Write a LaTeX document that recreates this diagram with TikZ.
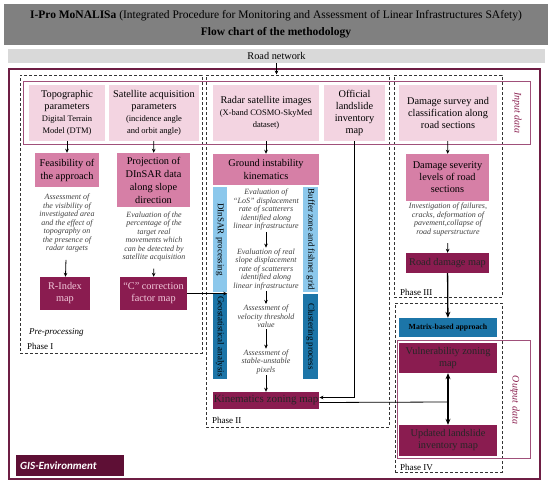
\documentclass[tikz,border=0pt]{standalone}
\usepackage{fontspec}
\setmainfont{Liberation Serif}
\newfontfamily\gisfont{Carlito}
\usepackage{xcolor}
\definecolor{titlegray}{HTML}{808080}
\definecolor{roadgray}{HTML}{D9D9D9}
\definecolor{gisedge}{HTML}{6E1E44}
\definecolor{gisfill}{HTML}{5E0F35}
\definecolor{inedge}{HTML}{A0507A}
\definecolor{inpink}{HTML}{F3D4E1}
\definecolor{midpink}{HTML}{D67FA6}
\definecolor{resmaroon}{HTML}{8A1C50}
\definecolor{restext}{HTML}{F2C9DB}
\definecolor{lightblue}{HTML}{8CC8EC}
\definecolor{darkblue}{HTML}{1C75A8}
\definecolor{notegray}{HTML}{404040}
\definecolor{datalbl}{HTML}{8B2252}
\usetikzlibrary{arrows.meta, positioning, calc}

\begin{document}
\begin{tikzpicture}[x=1pt, y=-1pt,
  font=\fontsize{10.3}{12}\selectfont,
  inp/.style={fill=inpink, align=center, inner sep=1pt},
  mid/.style={fill=midpink, align=center, inner sep=1pt},
  res/.style={fill=resmaroon, text=black!85, align=center, inner sep=1pt},
  bar/.style={rotate=-90, align=center, inner sep=0pt, font=\fontsize{9}{10}\selectfont},
  note/.style={align=center, inner sep=1pt, text=notegray,
    font=\fontsize{8}{8.5}\selectfont\itshape},
  phasebox/.style={draw=black!80, line width=1pt, dash pattern=on 3pt off 2pt, inner sep=0pt},
  lbl/.style={anchor=west, inner sep=0pt, font=\fontsize{9}{10}\selectfont},
  arr/.style={-{Stealth[length=4pt, width=3.6pt]}, line width=0.8pt},
  big/.style={-{Stealth[length=6pt, width=5pt]}, line width=1.3pt}
]
  \useasboundingbox (0,0) rectangle (550,485);

  % header
  \node[fill=titlegray, minimum width=544pt, minimum height=41pt, align=center,
    font=\fontsize{11.5}{17}\selectfont] (title) at (276,24.5)
    {\textbf{I-Pro MoNALISa} (Integrated Procedure for Monitoring and Assessment of Linear Infrastructures SAfety)\\
     \textbf{Flow chart of the methodology}};
  \node[fill=roadgray, minimum width=537pt, minimum height=14pt] (road) at (276.5,56) {Road network};

  % frames
  \node[draw=gisedge, line width=1.3pt, minimum width=531pt, minimum height=410pt, inner sep=0pt] (gis) at (274.5,274) {};
  \node[phasebox, minimum width=182pt, minimum height=278pt] (p1) at (111,214) {};
  \node[phasebox, minimum width=183pt, minimum height=352pt] (p2) at (297.5,251) {};
  \node[phasebox, minimum width=108pt, minimum height=222pt] (p3) at (448,186) {};
  \node[phasebox, minimum width=107pt, minimum height=169pt] (p4) at (448.5,387.5) {};
  \node[draw=inedge, line width=1pt, minimum width=507pt, minimum height=63pt, inner sep=0pt] (input) at (276.5,112.5) {};
  \node[draw=inedge, line width=1pt, minimum width=133pt, minimum height=118pt, inner sep=0pt] (output) at (463.5,399) {};

  \node[lbl, anchor=center, rotate=-90, text=datalbl, font=\fontsize{10}{11}\selectfont\itshape] (inlbl) at (517,113) {Input data};
  \node[lbl, anchor=center, rotate=-90, text=datalbl, font=\fontsize{10}{11}\selectfont\itshape] (outlbl) at (515,400) {Output data};

  % input data
  \node[inp, minimum width=76pt, minimum height=56pt] (topo) at (67,113)
    {Topographic\\parameters\\\fontsize{8.5}{12}\selectfont Digital Terrain\\\fontsize{8.5}{12}\selectfont Model (DTM)};
  \node[inp, minimum width=90pt, minimum height=56pt] (satacq) at (154,113)
    {Satellite acquisition\\parameters\\\fontsize{8.5}{12}\selectfont(incidence angle\\\fontsize{8.5}{12}\selectfont and orbit angle)};
  \node[inp, minimum width=106pt, minimum height=56pt] (radar) at (266,113)
    {Radar satellite images\\\fontsize{8.5}{11}\selectfont(X-band COSMO-SkyMed\\\fontsize{8.5}{11}\selectfont dataset)};
  \node[inp, minimum width=61pt, minimum height=56pt] (official) at (354.5,113)
    {Official\\landslide\\inventory\\map};
  \node[inp, minimum width=98pt, minimum height=56pt] (survey) at (448,113)
    {Damage survey and\\classification along\\road sections};

  % phase I
  \node[mid, minimum width=64pt, minimum height=34pt, font=\fontsize{10.3}{13}\selectfont] (feas) at (67,170)
    {Feasibility of\\the approach};
  \node[mid, minimum width=73pt, minimum height=54pt, font=\fontsize{10.3}{13}\selectfont] (proj) at (153.5,180)
    {Projection of\\DInSAR data\\along slope\\direction};
  \node[note] (visib) at (67,223.5)
    {Assessment of\\the visibility of\\investigated area\\and the effect of\\topography on\\the presence of\\radar targets};
  \node[note] (perc) at (154,236.5)
    {Evaluation of the\\percentage of the\\target real\\movements which\\can be detected by\\satellite acquisition};
  \node[res, text=restext, minimum width=50pt, minimum height=33pt] (rindex) at (65,293.5) {R-Index\\map};
  \node[res, text=restext, minimum width=67pt, minimum height=33pt] (cfact) at (153.5,293.5) {``C'' correction\\factor map};
  \node[lbl, font=\fontsize{9}{10}\selectfont\itshape] (prep) at (29,332) {Pre-processing};
  \node[lbl] (ph1) at (27,346) {Phase I};

  % phase II
  \node[mid, minimum width=106pt, minimum height=31pt, font=\fontsize{10.3}{13}\selectfont] (ground) at (266,169.5)
    {Ground instability\\kinematics};
  \node[bar, fill=lightblue, minimum width=105pt, minimum height=14pt] (dinsar) at (220,239.5) {DInSAR processing};
  \node[bar, fill=darkblue, minimum width=85pt, minimum height=14pt] (geostat) at (220,336.5) {Geostatistical analysis};
  \node[bar, fill=lightblue, minimum width=105pt, minimum height=15pt] (buffer) at (310.5,239.5) {Buffer zone and fishnet grid};
  \node[bar, fill=darkblue, minimum width=85pt, minimum height=15pt] (cluster) at (310.5,336.5) {Clustering process};
  \node[note] (los) at (266,210)
    {Evaluation of\\``LoS'' displacement\\rate of scatterers\\identified along\\linear infrastructure};
  \node[note] (real) at (266,269.5)
    {Evaluation of real\\slope displacement\\rate of scatterers\\identified along\\linear infrastructure};
  \node[note] (veloc) at (266,316.5) {Assessment of\\velocity threshold\\value};
  \node[note] (stable) at (266,362) {Assessment of\\stable-unstable\\pixels};
  \node[res, minimum width=106pt, minimum height=17pt, font=\fontsize{11}{12}\selectfont] (kin) at (266,400.5) {Kinematics zoning map};
  \node[lbl] (ph2) at (212,420) {Phase II};

  % phase III
  \node[mid, minimum width=83pt, minimum height=47pt] (sever) at (447.5,177.5)
    {Damage severity\\levels of road\\sections};
  \node[note] (invest) at (448,219.5)
    {Investigation of failures,\\cracks, deformation of\\pavement,collapse of\\road superstructure};
  \node[res, minimum width=83pt, minimum height=20pt] (rdmg) at (447.5,263) {Road damage map};
  \node[lbl] (ph3) at (400,292) {Phase III};

  % phase IV
  \node[fill=darkblue, minimum width=98pt, minimum height=19pt, inner sep=0pt,
    font=\fontsize{7.8}{9}\selectfont\bfseries] (matrix) at (448,327.5) {Matrix-based approach};
  \node[res, minimum width=98pt, minimum height=30pt] (vuln) at (448,358) {Vulnerability zoning\\map};
  \node[res, minimum width=98pt, minimum height=31pt] (upd) at (448,440.5) {Updated landslide\\inventory map};
  \node[lbl] (ph4) at (400,467) {Phase IV};
  \coordinate (join) at (448,402);

  \node[fill=gisfill, text=white, minimum width=108pt, minimum height=21pt, inner sep=4pt, anchor=west,
    text width=100pt, font=\gisfont\fontsize{11}{13}\selectfont\bfseries\itshape] (gisenv) at (16,465.5) {GIS-Environment};

  % connectors
  \draw[arr] (road.south) -- (road.south |- p2.north);
  \foreach \a/\b in {topo/feas,satacq/proj,radar/ground,survey/sever,los/real,real/veloc,veloc/stable,stable/kin}
    \draw[arr] (\a) -- (\b);
  \foreach \a/\b in {visib/rindex,perc/cfact,invest/rdmg}
    \draw[arr, shorten <=6pt] (\a) -- (\b);
  \draw[arr] (cfact.east) -- (cfact.east -| dinsar.north);
  \draw[arr] (official.south) |- ([yshift=3pt]kin.east);
  \draw[line width=0.8pt] ([yshift=-2pt]kin.east) -- (join);
  \draw[big] (rdmg) -- (matrix);
  \draw[big, {Stealth[length=6pt, width=5pt]}-{Stealth[length=6pt, width=5pt]}] (vuln) -- (upd);
\end{tikzpicture}
\end{document}
